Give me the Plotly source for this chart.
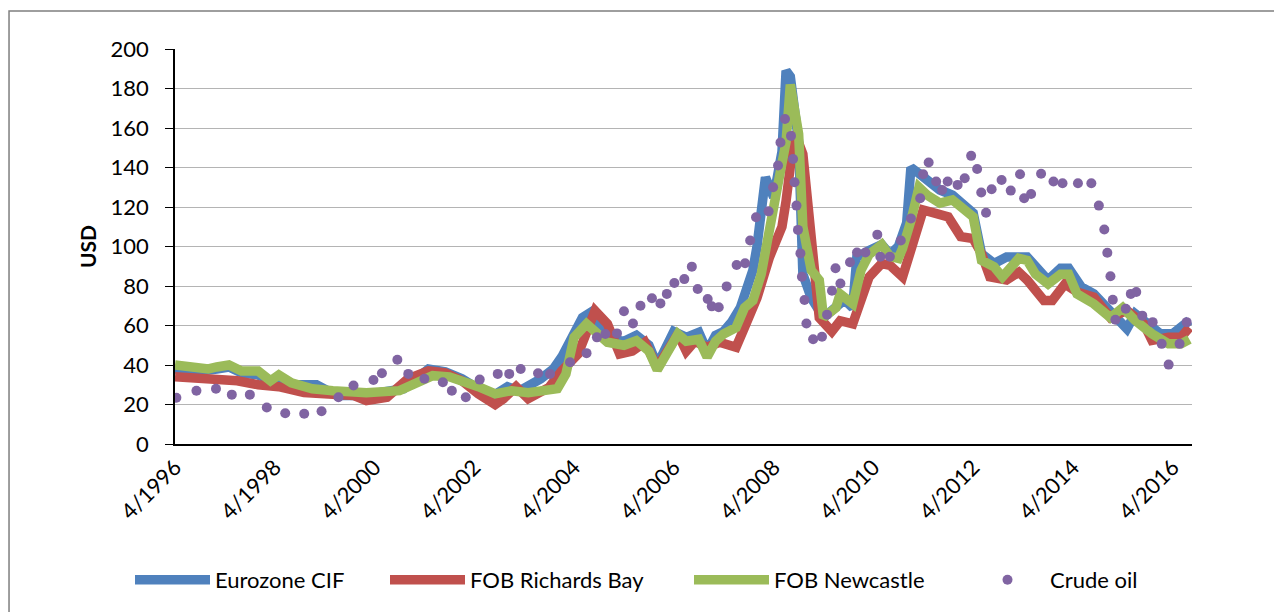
import plotly.graph_objects as go

# ---------------- data ----------------
eur_dates = ["1996-04","1996-10","1997-02","1997-05","1997-08","1997-12","1998-04","1998-05","1998-08",
             "1999-02","1999-07","1999-12","2000-05","2000-11","2001-02","2001-05","2001-09","2002-01",
             "2002-05","2002-09","2002-12","2003-03","2003-08","2003-11","2004-01","2004-06","2004-08",
             "2004-10","2004-12","2005-04","2005-07","2005-10","2005-12","2006-04","2006-07","2006-10",
             "2006-12","2007-02","2007-04","2007-06","2007-08","2007-11","2007-12","2008-02","2008-04",
             "2008-06","2008-07","2008-08","2008-10","2008-11","2009-01","2009-04","2009-07","2009-09",
             "2009-11","2009-12","2010-03","2010-06","2010-08","2010-10","2010-12","2011-01","2011-03",
             "2011-05","2011-08","2011-11","2012-02","2012-04","2012-06","2012-09","2012-12","2013-05",
             "2013-10","2014-01","2014-03","2014-06","2014-09","2015-01","2015-05","2015-07","2016-01",
             "2016-04","2016-08"]
eur_vals = [38,37,38,39,36,35,31,33,30,
            30,24.5,24.5,26,28,33,38,36.5,33,
            28,25,29,27,33,38,44,64,66.7,
            60,53,52,55,50,40,57,54,56.5,
            47,55,57,62,69,88,100,135,125,
            148,189,186,153,86,74,64,69,73,
            69,94.5,98,101,96,100,112,140,137,
            133,128.6,126,120,117,96.4,91.4,94.7,94.7,
            83,89,89,79.5,76,67.6,58.3,66,55.8,
            55.8,62.5]

rb_dates = ["1996-04","1996-11","1997-03","1997-07","1997-12","1998-05","1998-11","1999-03","1999-11",
            "2000-02","2000-07","2000-12","2001-05","2001-09","2002-01","2002-05","2002-09","2002-11",
            "2003-02","2003-05","2003-10","2004-01","2004-05","2004-09","2004-12","2005-03","2005-06",
            "2005-09","2005-12","2006-05","2006-07","2006-09","2006-12","2007-03","2007-07","2007-09",
            "2007-12","2008-03","2008-06","2008-07","2008-09","2008-11","2009-01","2009-03","2009-06",
            "2009-08","2009-11","2010-01","2010-03","2010-06","2010-08","2010-11","2011-01","2011-04",
            "2011-07","2011-10","2012-01","2012-04","2012-06","2012-08","2012-12","2013-03","2013-05",
            "2013-09","2013-11","2014-02","2014-05","2014-09","2015-01","2015-05","2015-09","2015-11",
            "2016-03","2016-06","2016-08"]
rb_vals = [34,33,32,32,30,29,26,25.4,24.5,
           22,23.7,33,37,36,32,25.4,20,22.9,
           29,23,28.7,37,45.6,67.5,60.8,45.6,47,
           51.5,38.8,55.7,47,52,49,51.5,49,59,
           74,94.5,110,123,158,146.8,103,64,57,
           62.4,60.8,72,84.6,91.4,90.5,84.6,98,118.5,
           116.8,115,105,104,96.4,84.6,83,87,83,
           72.7,72.7,81,77,74.4,64,67.6,61,52.4,
           54,54,59]

nc_dates = ["1996-04","1996-08","1996-12","1997-02","1997-05","1997-08","1997-12","1998-03","1998-05",
            "1998-08","1998-10","1999-01","1999-06","2000-02","2000-10","2001-02","2001-06","2001-10",
            "2002-01","2002-05","2002-09","2003-01","2003-05","2003-09","2003-12","2004-02","2004-04",
            "2004-07","2004-10","2004-12","2005-04","2005-07","2005-10","2005-12","2006-04","2006-05",
            "2006-07","2006-10","2006-12","2007-02","2007-04","2007-07","2007-09","2007-11","2008-01",
            "2008-03","2008-04","2008-05","2008-07","2008-08","2008-10","2008-11","2009-01","2009-03",
            "2009-04","2009-07","2009-08","2009-11","2010-01","2010-03","2010-06","2010-08","2010-10",
            "2010-11","2011-01","2011-03","2011-05","2011-08","2011-11","2012-02","2012-04","2012-06",
            "2012-09","2012-11","2013-03","2013-05","2013-07","2013-10","2014-01","2014-03","2014-05",
            "2014-09","2015-01","2015-04","2015-07","2015-11","2016-03","2016-06","2016-08"]
nc_vals = [40,38.5,38,39,40,37,37,32,35,
           31,30,28,27,26,27,30.5,34.6,34,
           32,29,25.4,27,26,27.5,28,35.4,54,
           60.8,55.7,51.5,50,52.3,47,37.5,52,55.7,
           52,53,44,52,55.7,59,69,72.6,86,
           110,125,131,153,182,157,110,88,83,
           64,69,76,71,88,96,101,95,94,
           99,113,130,126,122,123.6,117.6,115,93,
           89.7,84.6,94,93,86,81,86,86,76,
           71,64,69,62.5,55.8,50.7,50.7,53]

oil_dates = ["1996-04-11","1996-09-05","1997-01-26","1997-05-22","1997-10-01","1998-02-02","1998-06-17",
             "1998-11-03","1999-03-10","1999-07-12","1999-10-30","2000-03-24","2000-05-25","2000-09-15",
             "2000-12-04","2001-04-01","2001-08-14","2001-10-19","2002-01-29","2002-05-11","2002-09-20",
             "2002-12-13","2003-03-07","2003-07-12","2003-10-08","2004-03-02","2004-07-01","2004-09-15",
             "2004-11-16","2005-02-09","2005-04-01","2005-06-06","2005-07-31","2005-10-23","2005-12-24",
             "2006-02-09","2006-04-05","2006-06-17","2006-08-11","2006-09-23","2006-12-05","2007-01-04",
             "2007-02-24","2007-04-23","2007-07-05","2007-09-05","2007-10-12","2007-11-24","2008-02-24",
             "2008-03-28","2008-05-03","2008-05-21","2008-06-23","2008-08-06","2008-08-21","2008-09-01",
             "2008-09-15","2008-09-26","2008-10-14","2008-10-25","2008-11-13","2008-11-27","2009-01-15",
             "2009-03-21","2009-04-27","2009-06-02","2009-06-28","2009-08-03","2009-10-12","2009-12-02",
             "2010-02-02","2010-04-30","2010-05-22","2010-07-31","2010-10-19","2011-01-01","2011-03-10",
             "2011-04-01","2011-05-11","2011-07-05","2011-08-18","2011-09-27","2011-12-09","2012-01-30",
             "2012-03-17","2012-04-30","2012-05-30","2012-07-04","2012-08-14","2012-10-26","2013-01-01",
             "2013-03-10","2013-04-09","2013-05-30","2013-08-11","2013-11-10","2014-01-15","2014-05-08",
             "2014-08-14","2014-10-08","2014-11-17","2014-12-09","2015-01-01","2015-01-18","2015-02-06",
             "2015-04-23","2015-05-30","2015-07-09","2015-08-22","2015-11-06","2016-01-11","2016-03-02",
             "2016-05-21","2016-07-12"]
oil_vals = [23.4,27,28,25,25,18.5,15.6,
            15.3,16.6,23.7,29.6,32.4,35.8,42.7,
            35.5,33,31.3,27,23.7,32.6,35.5,
            35.5,38,35.8,35.4,41.4,46,54,
            55.7,56,67.2,61,70,73.8,71.2,
            76,81.5,83.5,89.8,78.5,73.4,69.7,
            69.2,79.8,90.6,91.5,103,114.8,117.8,
            130,141,152.7,164.6,156,144.3,132.5,
            120.7,108.4,96.5,84.7,72.9,61,53,
            54.3,65.5,77.6,89,81.3,92,97,
            97,106,94.8,94.8,103,114.2,124.4,
            136.6,142.5,132.9,128.6,132.9,131.2,134.6,
            145.9,139.2,127.3,117.1,129,133.7,128.3,
            136.6,124.4,126.6,136.8,132.9,132,132,
            132,120.7,108.6,96.8,84.9,73,62.9,
            68.5,76,77,65,61.7,50.7,40.2,
            50.7,61.7]

tick_dates = ["1996-04-01","1998-04-01","2000-04-01","2002-04-01","2004-04-01",
              "2006-04-01","2008-04-01","2010-04-01","2012-04-01","2014-04-01","2016-04-01"]
tick_text = ["4/1996","4/1998","4/2000","4/2002","4/2004","4/2006",
             "4/2008","4/2010","4/2012","4/2014","4/2016"]

# ---------------- figure ----------------
FONT = "Lato, Carlito, Calibri, sans-serif"
LW = 9.5
W, H = 1274, 604
fig = go.Figure()
fig.add_trace(go.Scatter(x=eur_dates, y=eur_vals, mode="lines", name="Eurozone CIF",
                         line=dict(color="#4F81BD", width=LW), legend="legend"))
fig.add_trace(go.Scatter(x=rb_dates, y=rb_vals, mode="lines", name="FOB Richards Bay",
                         line=dict(color="#C0504D", width=LW), legend="legend2"))
fig.add_trace(go.Scatter(x=nc_dates, y=nc_vals, mode="lines", name="FOB Newcastle",
                         line=dict(color="#9BBB59", width=LW), legend="legend3"))
fig.add_trace(go.Scatter(x=oil_dates, y=oil_vals, mode="markers", name="Crude oil",
                         marker=dict(color="#8064A2", size=10, line=dict(width=0)),
                         legend="legend4"))


def leg(xpx, iw=75):
    return dict(orientation="h", xref="container", yref="container",
                x=xpx / W, xanchor="left", y=0.053, yanchor="middle",
                font=dict(size=22, family=FONT), itemwidth=iw, bgcolor="rgba(0,0,0,0)")


fig.update_layout(
    width=W, height=H,
    margin=dict(l=167, r=90, t=41, b=168),
    paper_bgcolor="white", plot_bgcolor="white",
    font=dict(family=FONT, size=22, color="#000000"),
    showlegend=True,
    legend=leg(122), legend2=leg(377), legend3=leg(681), legend4=leg(957),
    xaxis=dict(type="date", range=["1996-04-01", "2016-08-20"],
               tickmode="array", tickvals=tick_dates, ticktext=tick_text,
               tickangle=-45, showgrid=False, showline=True, linecolor="#000000",
               linewidth=1.5, ticks="", zeroline=False, tickfont=dict(size=22)),
    yaxis=dict(range=[0, 200], dtick=20, showgrid=True, gridcolor="#B4B4B4", gridwidth=1.3,
               showline=True, linecolor="#000000", linewidth=1.5, ticks="outside",
               ticklen=8, tickcolor="#000000", zeroline=False, tickfont=dict(size=22),
               ticklabelstandoff=12,
               title=dict(text="<b>USD</b>", font=dict(size=21), standoff=8)),
    shapes=[dict(type="rect", xref="paper", yref="paper", x0=-0.1632, x1=1.2,
                 y0=-0.6, y1=1.0962, line=dict(color="#7F7F7F", width=1.5),
                 fillcolor="rgba(0,0,0,0)", layer="below")],
)

fig.write_html("out.html")
